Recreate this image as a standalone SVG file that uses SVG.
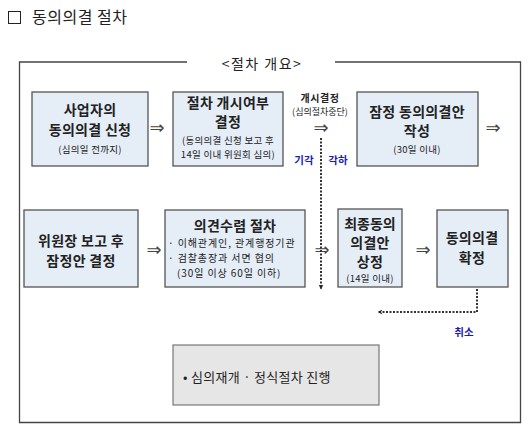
<svg xmlns="http://www.w3.org/2000/svg" width="531" height="435" viewBox="0 0 531 435">
<defs>
<style>
text{font-family:"Noto Sans CJK KR","DejaVu Sans",sans-serif;fill:#222}
.box{fill:#e5edf7;stroke:#555;stroke-width:1.3}
.gbox{fill:#e6e6e6;stroke:#777;stroke-width:1.2}
.t{font-size:14px;font-weight:bold;text-anchor:middle;letter-spacing:0.3px}
.s{font-size:9.5px;text-anchor:middle;letter-spacing:0.3px}
.l{font-size:10px;letter-spacing:0.9px}
.arr{font-family:"DejaVu Sans",sans-serif;font-size:18px;fill:#444;text-anchor:middle}
.blue{font-size:10.5px;font-weight:bold;fill:#1c1cb0;text-anchor:middle}
.dot{fill:none;stroke:#333;stroke-width:2;stroke-dasharray:2 1.5}
</style>
<marker id="ah" viewBox="0 0 10 10" refX="9" refY="5" markerWidth="5" markerHeight="5" orient="auto" markerUnits="userSpaceOnUse">
<path d="M0,0 L10,5 L0,10 L3,5 Z" fill="#222"/>
</marker>
</defs>
<rect width="531" height="435" fill="#fff"/>
<g id="title">
<rect x="8.5" y="11.5" width="12" height="12" fill="none" stroke="#222" stroke-width="1"/>
<text x="32" y="23" style="font-size:16px;letter-spacing:0.5px">동의의결 절차</text>
</g>
<g id="frame">
<path d="M187,62 H19.5 V422.5 H520.5 V62 H335" fill="none" stroke="#444" stroke-width="1.3"/>
<text x="262" y="69" style="font-size:14px;text-anchor:middle;letter-spacing:1.5px">&lt;절차 개요&gt;</text>
</g>
<g id="n1">
<rect class="box" x="32" y="92" width="116" height="74"/>
<text class="t" x="90" y="115">사업자의</text>
<text class="t" x="90" y="135">동의의결 신청</text>
<text class="s" x="90" y="153">(심의일 전까지)</text>
</g>
<g id="n2">
<rect class="box" x="173" y="92" width="110" height="74"/>
<text class="t" x="228" y="108">절차 개시여부</text>
<text class="t" x="228" y="127">결정</text>
<text class="s" x="228" y="144">(동의의결 신청 보고 후</text>
<text class="s" x="228" y="158">14일 이내 위원회 심의)</text>
</g>
<g id="n3">
<rect class="box" x="357" y="92" width="121" height="74"/>
<text class="t" x="417" y="117">잠정 동의의결안</text>
<text class="t" x="417" y="136">작성</text>
<text class="s" x="417" y="153">(30일 이내)</text>
</g>
<g id="n4">
<rect class="box" x="24" y="210" width="114" height="77"/>
<text class="t" x="81" y="246">위원장 보고 후</text>
<text class="t" x="81" y="266">잠정안 결정</text>
</g>
<g id="n5">
<rect class="box" x="165" y="210" width="140" height="77"/>
<text class="t" x="235" y="231">의견수렴 절차</text>
<text class="l" x="168" y="247">· 이해관계인, 관계행정기관</text>
<text class="l" x="168" y="262">· 검찰총장과 서면 협의</text>
<text class="l" x="177" y="277">(30일 이상 60일 이하)</text>
</g>
<g id="n6">
<rect class="box" x="338" y="209" width="64" height="78"/>
<text class="t" x="370" y="229" style="letter-spacing:0">최종동의</text>
<text class="t" x="370" y="248">의결안</text>
<text class="t" x="370" y="267">상정</text>
<text class="s" x="370" y="282">(14일 이내)</text>
</g>
<g id="n7">
<rect class="box" x="437" y="210" width="71" height="77"/>
<text class="t" x="472" y="243">동의의결</text>
<text class="t" x="472" y="263">확정</text>
</g>
<g id="n8">
<rect class="gbox" x="173" y="345" width="206" height="60"/>
<text x="183" y="382" style="font-size:13px;letter-spacing:0.3px">• 심의재개 · 정식절차 진행</text>
</g>
<g id="connectors">
<text class="arr" x="157" y="134">⇒</text>
<text class="arr" x="321" y="134">⇒</text>
<text class="arr" x="493" y="134">⇒</text>
<text class="arr" x="154" y="256">⇒</text>
<text class="arr" x="322" y="256">⇒</text>
<text class="arr" x="423" y="256">⇒</text>
<path class="dot" d="M321,138 V289" marker-end="url(#ah)"/>
<path class="dot" d="M477,289 V312 H378" marker-end="url(#ah)"/>
<text x="320" y="102" style="font-size:10px;font-weight:bold;text-anchor:middle;letter-spacing:0.5px">개시결정</text>
<text x="320" y="115" style="font-size:9px;text-anchor:middle">(심의절차중단)</text>
<text class="blue" x="304" y="164">기각</text>
<text class="blue" x="338" y="164">각하</text>
<text class="blue" x="464" y="336">취소</text>
</g>
</svg>
